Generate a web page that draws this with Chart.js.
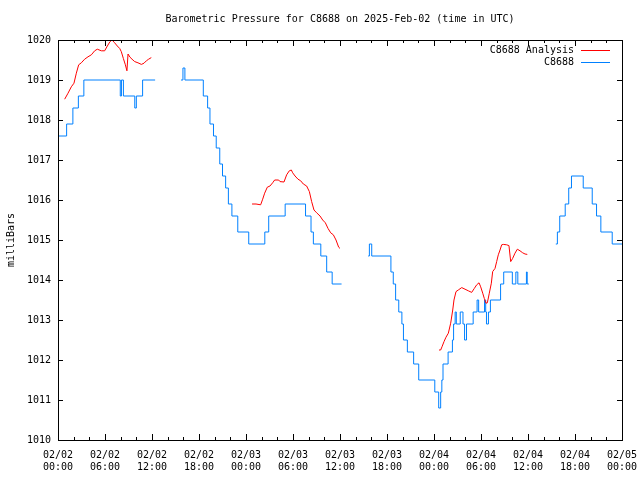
<!DOCTYPE html>
<html lang="en">
  <head>
    <meta charset="UTF-8" />
    <title>Barometric Pressure for C8688</title>
    <style>
      body { margin: 0; background: #fff; }
      canvas { display: block; }
    </style>
  </head>
  <body>
    <canvas id="myChart" width="640" height="480"></canvas>

    <script src="https://cdn.jsdelivr.net/npm/chart.js@4/dist/chart.umd.min.js"></script>
    <script>
      const titleText = "Barometric Pressure for C8688 on 2025-Feb-02 (time in UTC)";
      const yLabel = "milliBars";
      const dates = ["02/02", "02/03", "02/04", "02/05"];

      // hours since 02/02 00:00 UTC, null value = gap in the record
      const analysisHours = [
        0.85, 1.28, 1.7, 2.04, 2.34, 2.64, 2.98, 3.4, 3.83, 4.26, 4.68, 5.02, 5.53, 5.96, 6.3, 6.64,
        6.9, 7.23, 7.57, 7.87, 8.08, 8.34, 8.6, 8.8, 8.94, 9.19, 9.45, 9.79, 10.21, 10.64, 10.98,
        11.28, 11.57, 11.91,
        18,
        24.77, 25.28, 25.87, 26.13, 26.38, 26.72, 27.06, 27.4, 27.66, 28.17, 28.34, 28.85, 29.19,
        29.53, 29.79, 29.96, 30.26, 30.64, 30.98, 31.32, 31.74, 32.09, 32.38, 32.68, 33.02, 33.45,
        33.79, 34.13, 34.47, 34.81, 35.15, 35.49, 35.83, 36.0,
        42,
        48.64, 48.85, 49.02, 49.28, 49.53, 49.83, 50.13, 50.39, 50.55, 50.81, 51.1, 51.54, 51.96,
        52.38, 52.81, 53.15, 53.45, 53.75, 53.96, 54.22, 54.42, 54.64, 54.81, 55.06, 55.32, 55.49,
        55.79, 56.0, 56.21, 56.43, 56.64, 56.85, 57.28, 57.57, 57.79, 58.04, 58.34, 58.64, 58.98,
        59.32, 59.62, 59.91
      ];
      const analysisValues = [
        1018.52, 1018.67, 1018.83, 1018.92, 1019.17, 1019.38, 1019.43, 1019.52, 1019.58, 1019.63,
        1019.73, 1019.77, 1019.73, 1019.73, 1019.85, 1019.96, 1020.0, 1019.93, 1019.85, 1019.79,
        1019.71, 1019.54, 1019.38, 1019.23, 1019.65, 1019.57, 1019.52, 1019.46, 1019.43, 1019.39,
        1019.42, 1019.48, 1019.52, 1019.56,
        null,
        1015.9, 1015.9, 1015.88, 1016.02, 1016.17, 1016.32, 1016.35, 1016.43, 1016.5, 1016.5,
        1016.46, 1016.45, 1016.63, 1016.73, 1016.75, 1016.68, 1016.6, 1016.52, 1016.48, 1016.4,
        1016.35, 1016.21, 1015.96, 1015.75, 1015.68, 1015.6, 1015.5, 1015.43, 1015.29, 1015.18,
        1015.13, 1015.0, 1014.82, 1014.79,
        null,
        1012.25, 1012.25, 1012.33, 1012.46, 1012.57, 1012.67, 1012.92, 1013.25, 1013.5, 1013.71,
        1013.75, 1013.81, 1013.77, 1013.73, 1013.69, 1013.79, 1013.88, 1013.93, 1013.83, 1013.67,
        1013.54, 1013.42, 1013.43, 1013.67, 1013.92, 1014.21, 1014.29, 1014.46, 1014.63, 1014.75,
        1014.88, 1014.89, 1014.88, 1014.86, 1014.46, 1014.54, 1014.67, 1014.77, 1014.73, 1014.68,
        1014.65, 1014.64
      ];

      // station obs: the time each new reading starts
      const obsHours = [
        0, 1.1, 1.9, 2.6, 3.3, 7.95, 8.1, 8.35, 9.8, 10.0, 10.8, 12.4,
        14,
        15.7, 15.95, 16.2, 18.55, 19.1, 19.4, 19.85, 20.2, 20.65, 21.0, 21.4, 21.75, 22.2, 22.95,
        24.35, 26.4, 26.9, 29.0, 31.6, 32.3, 32.6, 33.55, 34.3, 35.0, 36.2,
        38,
        39.6, 39.75, 40.05, 42.5, 42.8, 43.1, 43.5, 43.9, 44.1, 44.6, 45.4, 46.05, 48.1, 48.6,
        48.85, 49.0, 49.15, 49.8, 50.35, 50.5, 50.7, 50.85, 51.35, 51.7, 51.9, 52.15, 53.0, 53.5,
        53.7, 54.45, 54.6, 54.7, 54.95, 55.2, 56.5, 56.9, 58.0, 58.45, 58.7, 59.8, 59.9, 60.1,
        62,
        63.55, 63.75, 64.05, 64.75, 65.2, 65.55, 67.05, 68.2, 68.75, 69.3, 70.75, 72
      ];
      const obsValues = [
        1017.6, 1017.9, 1018.3, 1018.6, 1019.0, 1018.6, 1019.0, 1018.6, 1018.3, 1018.6, 1019.0, 1019.0,
        null,
        1019.0, 1019.3, 1019.0, 1018.6, 1018.3, 1017.9, 1017.6, 1017.3, 1016.9, 1016.6, 1016.3,
        1015.9, 1015.6, 1015.2, 1014.9, 1015.2, 1015.6, 1015.9, 1015.6, 1015.2, 1014.9, 1014.6,
        1014.2, 1013.9, 1013.9,
        null,
        1014.6, 1014.9, 1014.6, 1014.2, 1013.9, 1013.5, 1013.2, 1012.9, 1012.5, 1012.2, 1011.9,
        1011.5, 1011.2, 1010.8, 1011.2, 1011.5, 1011.9, 1012.2, 1012.5, 1012.9, 1013.2, 1012.9,
        1013.2, 1012.9, 1012.5, 1012.9, 1013.2, 1013.5, 1013.2, 1013.5, 1013.2, 1012.9, 1013.2,
        1013.5, 1013.9, 1014.2, 1013.9, 1014.2, 1013.9, 1014.2, 1013.9, 1013.9,
        null,
        1014.9, 1015.2, 1015.6, 1015.9, 1016.3, 1016.6, 1016.3, 1015.9, 1015.6, 1015.2, 1014.9, 1014.9
      ];

      const FONT = "'DejaVu Sans Mono', 'Liberation Mono', monospace";

      function toPoints(xs, ys) {
        return xs.map((x, i) => ({ x: x, y: ys[i] }));
      }

      // frame, inward ticks, title, y label and legend in gnuplot style
      const gnuplotFrame = {
        id: "gnuplotFrame",
        afterDraw(chart) {
          const ctx = chart.ctx;
          const a = chart.chartArea;
          const xs = chart.scales.x;
          const ys = chart.scales.y;
          ctx.save();
          ctx.strokeStyle = "#000";
          ctx.lineWidth = 1;
          ctx.strokeRect(Math.round(a.left) + 0.5, Math.round(a.top) + 0.5,
            Math.round(a.right - a.left), Math.round(a.bottom - a.top));

          ctx.beginPath();
          for (let h = 0; h <= 72; h += 2) {
            const px = Math.round(xs.getPixelForValue(h)) + 0.5;
            const len = h % 6 === 0 ? 6 : 3;
            ctx.moveTo(px, a.bottom);
            ctx.lineTo(px, a.bottom - len);
            ctx.moveTo(px, a.top);
            ctx.lineTo(px, a.top + len);
          }
          for (let v = 1010; v <= 1020; v++) {
            const py = Math.round(ys.getPixelForValue(v)) + 0.5;
            ctx.moveTo(a.left, py);
            ctx.lineTo(a.left + 5, py);
            ctx.moveTo(a.right, py);
            ctx.lineTo(a.right - 5, py);
          }
          ctx.stroke();

          ctx.fillStyle = "#000";
          ctx.font = "10px " + FONT;
          ctx.textAlign = "center";
          ctx.textBaseline = "middle";
          ctx.fillText(titleText, (a.left + a.right) / 2, 19);

          ctx.save();
          ctx.translate(11, (a.top + a.bottom) / 2);
          ctx.rotate(-Math.PI / 2);
          ctx.fillText(yLabel, 0, 0);
          ctx.restore();

          ctx.textAlign = "right";
          chart.data.datasets.forEach((ds, i) => {
            const y = 50 + i * 12;
            ctx.fillStyle = "#000";
            ctx.fillText(ds.label, 574, y);
            ctx.strokeStyle = ds.borderColor;
            ctx.beginPath();
            ctx.moveTo(581, y + 0.5);
            ctx.lineTo(610, y + 0.5);
            ctx.stroke();
          });
          ctx.restore();
        }
      };

      const ctx = document.getElementById("myChart").getContext("2d");
      const chart = new Chart(ctx, {
        type: "line",
        data: {
          datasets: [
            {
              label: "C8688 Analysis",
              data: toPoints(analysisHours, analysisValues),
              borderColor: "rgb(255, 0, 0)",
              borderWidth: 1,
              pointRadius: 0,
              fill: false,
              spanGaps: false
            },
            {
              label: "C8688",
              data: toPoints(obsHours, obsValues),
              borderColor: "rgb(0, 128, 255)",
              borderWidth: 1,
              pointRadius: 0,
              fill: false,
              stepped: "before",
              spanGaps: false
            }
          ]
        },
        options: {
          responsive: false,
          animation: false,
          events: [],
          layout: { padding: { top: 40, right: 18, left: 0, bottom: 0 } },
          plugins: {
            legend: { display: false },
            title: { display: false },
            tooltip: { enabled: false }
          },
          scales: {
            x: {
              type: "linear",
              min: 0,
              max: 72,
              grid: { display: false, drawTicks: false },
              border: { display: false },
              afterFit(scale) {
                scale.height = 40;
                scale.paddingLeft = 0;
                scale.paddingRight = 0;
              },
              ticks: {
                stepSize: 6,
                autoSkip: false,
                maxRotation: 0,
                padding: 9,
                color: "#000",
                font: { family: FONT, size: 10, lineHeight: 1.2 },
                callback(value) {
                  const day = dates[Math.floor(value / 24)];
                  const hh = String(value % 24).padStart(2, "0");
                  return [day, hh + ":00"];
                }
              }
            },
            y: {
              min: 1010,
              max: 1020,
              grid: { display: false, drawTicks: false },
              border: { display: false },
              afterFit(scale) { scale.width = 58; },
              ticks: {
                stepSize: 1,
                padding: 7,
                color: "#000",
                font: { family: FONT, size: 10 },
                callback(value) { return String(value); }
              }
            }
          }
        },
        plugins: [gnuplotFrame]
      });
    </script>
  </body>
</html>
